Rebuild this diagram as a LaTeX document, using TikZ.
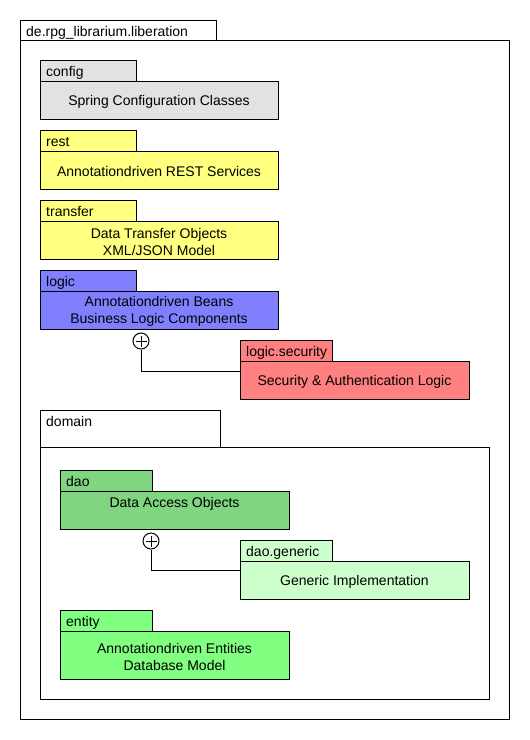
\documentclass[tikz,border=0pt]{standalone}
\usepackage{fontspec}
\setmainfont{Liberation Sans}
\definecolor{cfggray}{HTML}{E2E2E2}
\definecolor{restyel}{HTML}{FFFF80}
\definecolor{logicblue}{HTML}{8080FF}
\definecolor{secred}{HTML}{FF8080}
\definecolor{daogreen}{HTML}{80D580}
\definecolor{genlight}{HTML}{CCFFCC}
\definecolor{entgreen}{HTML}{80FF80}
\tikzset{
  pkgtab/.style={draw=black, line width=1pt, rectangle, anchor=north west, inner sep=0pt, outer sep=0pt},
  pkgbody/.style={draw=black, line width=1pt, rectangle, anchor=north west, inner sep=0pt, outer sep=0pt},
  tablabel/.style={anchor=base west, inner sep=0pt, font=\fontsize{14}{17}\selectfont},
  bodytext/.style={align=center, inner sep=0pt, yshift=-1.5pt, font=\fontsize{14}{17}\selectfont},
  nestplus/.style={circle, draw=black, line width=1pt, fill=white, minimum size=16pt, inner sep=0pt,
    path picture={\draw[line width=0.9pt] ([xshift=-5.5pt]path picture bounding box.center) -- ([xshift=5.5pt]path picture bounding box.center);
                  \draw[line width=0.9pt] ([yshift=-5.5pt]path picture bounding box.center) -- ([yshift=5.5pt]path picture bounding box.center);}},
  nestline/.style={draw=black, line width=1pt}
}
\begin{document}
\begin{tikzpicture}[x=1pt,y=-1pt]
\useasboundingbox (0,0) rectangle (530,740);
\fill[white] (0,0) rectangle (530,740);
% outer package
\node[pkgtab, fill=white, minimum width=196pt, minimum height=21pt] (outerTab) at (20,20) {};
\node[tablabel] (outerLbl) at ([xshift=6pt,yshift=-16pt]outerTab.north west) {de.rpg\_librarium.liberation};
\node[pkgbody, fill=white, minimum width=489pt, minimum height=679pt] (outerBody) at (20,40) {};
% config
\node[pkgtab, fill=cfggray, minimum width=96pt, minimum height=21pt] (cfgTab) at (40,60) {};
\node[tablabel] (cfgLbl) at ([xshift=6pt,yshift=-16pt]cfgTab.north west) {config};
\node[pkgbody, fill=cfggray, minimum width=238pt, minimum height=38pt] (cfgBody) at (40,81) {};
\node[bodytext] (cfgTxt) at (cfgBody.center) {Spring Configuration Classes};
% rest
\node[pkgtab, fill=restyel, minimum width=96pt, minimum height=21pt] (restTab) at (40,130) {};
\node[tablabel] (restLbl) at ([xshift=6pt,yshift=-16pt]restTab.north west) {rest};
\node[pkgbody, fill=restyel, minimum width=238pt, minimum height=38pt] (restBody) at (40,151) {};
\node[bodytext] (restTxt) at (restBody.center) {Annotationdriven REST Services};
% transfer
\node[pkgtab, fill=restyel, minimum width=96pt, minimum height=21pt] (trTab) at (40,200) {};
\node[tablabel] (trLbl) at ([xshift=6pt,yshift=-16pt]trTab.north west) {transfer};
\node[pkgbody, fill=restyel, minimum width=238pt, minimum height=38pt] (trBody) at (40,221) {};
\node[bodytext] (trTxt) at (trBody.center) {Data Transfer Objects\\XML/JSON Model};
% logic
\node[pkgtab, fill=logicblue, minimum width=96pt, minimum height=21pt] (lgTab) at (40,270) {};
\node[tablabel] (lgLbl) at ([xshift=6pt,yshift=-16pt]lgTab.north west) {logic};
\node[pkgbody, fill=logicblue, minimum width=238pt, minimum height=38pt] (lgBody) at (40,291) {};
\node[bodytext] (lgTxt) at (lgBody.center) {Annotationdriven Beans\\Business Logic Components};
% logic.security
\node[pkgtab, fill=secred, minimum width=92pt, minimum height=21pt] (secTab) at (240,340) {};
\node[tablabel] (secLbl) at ([xshift=6pt,yshift=-16pt]secTab.north west) {logic.security};
\node[pkgbody, fill=secred, minimum width=229pt, minimum height=38pt] (secBody) at (240,361) {};
\node[bodytext] (secTxt) at (secBody.center) {Security \& Authentication Logic};
\node[nestplus] (plusA) at (141,341) {};
\draw[nestline] (plusA.south) |- ([yshift=-10pt]secBody.north west);
% domain
\node[pkgtab, fill=white, minimum width=180pt, minimum height=37pt] (domTab) at (40,410) {};
\node[tablabel] (domLbl) at ([xshift=6pt,yshift=-16pt]domTab.north west) {domain};
\node[pkgbody, fill=white, minimum width=449pt, minimum height=252pt] (domBody) at (40,447) {};
% dao
\node[pkgtab, fill=daogreen, minimum width=92pt, minimum height=21pt] (daoTab) at (60,470) {};
\node[tablabel] (daoLbl) at ([xshift=6pt,yshift=-16pt]daoTab.north west) {dao};
\node[pkgbody, fill=daogreen, minimum width=229pt, minimum height=38pt] (daoBody) at (60,491) {};
\node[bodytext] (daoTxt) at ([yshift=-11pt]daoBody.north) {Data Access Objects};
% dao.generic
\node[pkgtab, fill=genlight, minimum width=92pt, minimum height=21pt] (genTab) at (240,540) {};
\node[tablabel] (genLbl) at ([xshift=6pt,yshift=-16pt]genTab.north west) {dao.generic};
\node[pkgbody, fill=genlight, minimum width=229pt, minimum height=38pt] (genBody) at (240,561) {};
\node[bodytext] (genTxt) at (genBody.center) {Generic Implementation};
\node[nestplus] (plusB) at (151,541) {};
\draw[nestline] (plusB.south) |- ([yshift=-9pt]genBody.north west);
% entity
\node[pkgtab, fill=entgreen, minimum width=92pt, minimum height=21pt] (entTab) at (60,610) {};
\node[tablabel] (entLbl) at ([xshift=6pt,yshift=-16pt]entTab.north west) {entity};
\node[pkgbody, fill=entgreen, minimum width=229pt, minimum height=48pt] (entBody) at (60,631) {};
\node[bodytext] (entTxt) at ([yshift=-24pt]entBody.north) {Annotationdriven Entities\\Database Model};
\end{tikzpicture}
\end{document}
